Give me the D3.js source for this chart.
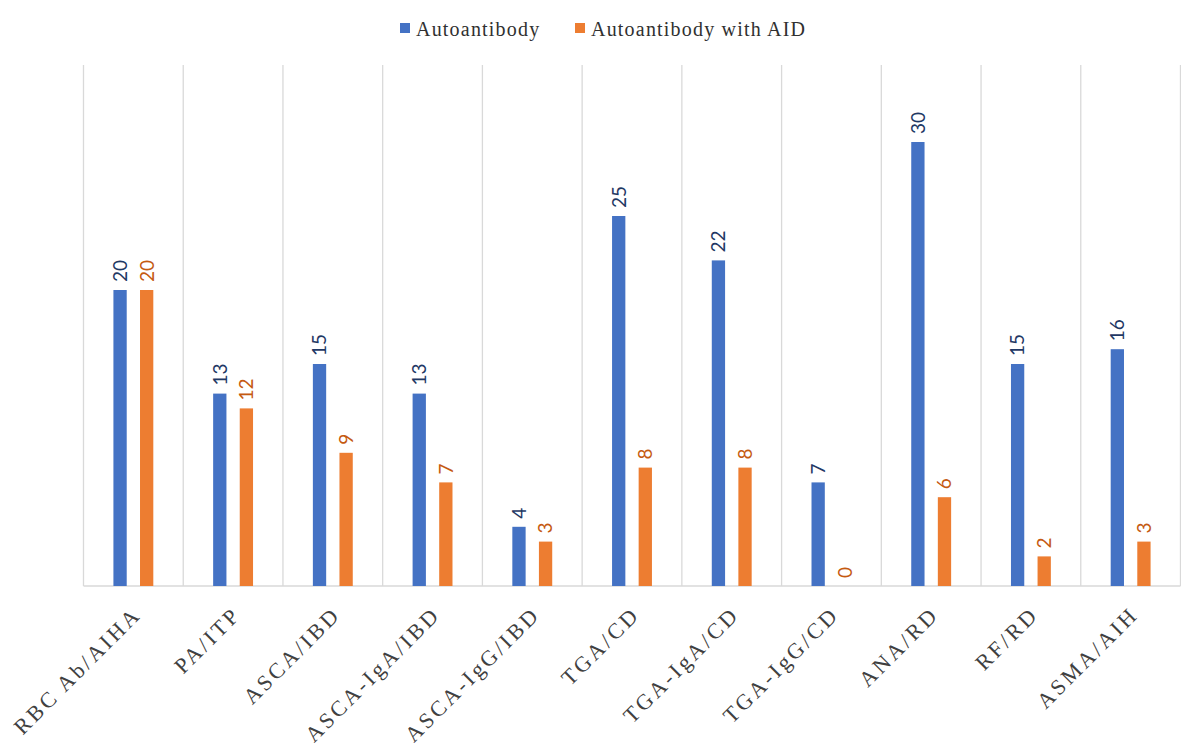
<!DOCTYPE html>
<html><head><meta charset="utf-8">
<script src="https://cdn.jsdelivr.net/npm/d3@7"></script>
<style>
html,body{margin:0;padding:0;background:#fff;}
svg{display:block;}
</style></head>
<body>
<svg id="chart" width="1181" height="743"></svg>
<script>
const categories = ["RBC Ab/AIHA","PA/ITP","ASCA/IBD","ASCA-IgA/IBD","ASCA-IgG/IBD","TGA/CD","TGA-IgA/CD","TGA-IgG/CD","ANA/RD","RF/RD","ASMA/AIH"];
const seriesNames = ["Autoantibody","Autoantibody with AID"];
const autoantibody = [20,13,15,13,4,25,22,7,30,15,16];
const autoantibodyWithAID = [20,12,9,7,3,8,8,0,6,2,3];
const seriesValues = [autoantibody, autoantibodyWithAID];
const barColors = ["#4472C4","#ED7D31"];
const labelColors = ["#1F3864","#C55A11"];

const svg = d3.select("#chart");
const plotLeft = 83.5, plotRight = 1180.5, plotTop = 65, plotBottom = 586;

const x0 = d3.scaleBand().domain(categories).range([plotLeft, plotRight]).paddingInner(0.6).paddingOuter(0.3);
const x1 = d3.scaleBand().domain(seriesNames).range([0, x0.bandwidth()]).paddingInner(0.5);
const y = d3.scaleLinear().domain([0, 35]).range([plotBottom, 68]);
const step = x0.step();

// vertical gridlines at category boundaries
const bounds = d3.range(categories.length + 1).map(i => plotLeft + i * step);
svg.append("g").selectAll("line").data(bounds).join("line")
  .attr("x1", d => d).attr("x2", d => d)
  .attr("y1", plotTop).attr("y2", plotBottom)
  .attr("stroke", "#d9d9d9").attr("stroke-width", 1.3);

// baseline axis
svg.append("line").attr("x1", plotLeft).attr("x2", plotRight).attr("y1", y(0)).attr("y2", y(0))
  .attr("stroke", "#d9d9d9").attr("stroke-width", 1.3);

// bars
const rows = categories.map((c, i) => ({cat: c, vals: seriesNames.map((s, j) => ({s, j, v: seriesValues[j][i]}))}));
const groups = svg.append("g").selectAll("g").data(rows).join("g")
  .attr("transform", d => `translate(${x0(d.cat)},0)`);
groups.selectAll("rect").data(d => d.vals).join("rect")
  .attr("x", d => x1(d.s)).attr("width", x1.bandwidth())
  .attr("y", d => y(d.v)).attr("height", d => y(0) - y(d.v))
  .attr("fill", d => barColors[d.j]);
groups.selectAll("text").data(d => d.vals).join("text")
  .attr("transform", d => `translate(${x1(d.s) + x1.bandwidth()/2},${y(d.v) - 8}) rotate(-90)`)
  .attr("dy", "0.36em")
  .attr("text-anchor", "start")
  .attr("font-family", "Lato, 'Open Sans', sans-serif")
  .attr("font-size", 19)
  .attr("fill", d => labelColors[d.j])
  .text(d => d.v);

// category labels
svg.append("g").selectAll("text").data(categories).join("text")
  .attr("transform", d => `translate(${x0(d) + x0.bandwidth()/2 + 9},${plotBottom + 30}) rotate(-45)`)
  .attr("text-anchor", "end")
  .attr("font-family", "'Liberation Serif', 'Times New Roman', serif")
  .attr("font-size", 22)
  .attr("letter-spacing", "3px")
  .attr("fill", "#404040")
  .text(d => d);

// legend
const legendItems = [{name: seriesNames[0], x: 400, c: barColors[0]}, {name: seriesNames[1], x: 575, c: barColors[1]}];
const lg = svg.append("g").selectAll("g").data(legendItems).join("g")
  .attr("transform", d => `translate(${d.x},0)`);
lg.append("rect").attr("x", 0).attr("y", 23).attr("width", 10).attr("height", 10).attr("fill", d => d.c);
lg.append("text").attr("x", 16).attr("y", 36)
  .attr("font-family", "'Liberation Serif', 'Times New Roman', serif")
  .attr("font-size", 20).attr("letter-spacing", "1.2px")
  .attr("fill", "#303030")
  .text(d => d.name);
</script>
</body></html>
